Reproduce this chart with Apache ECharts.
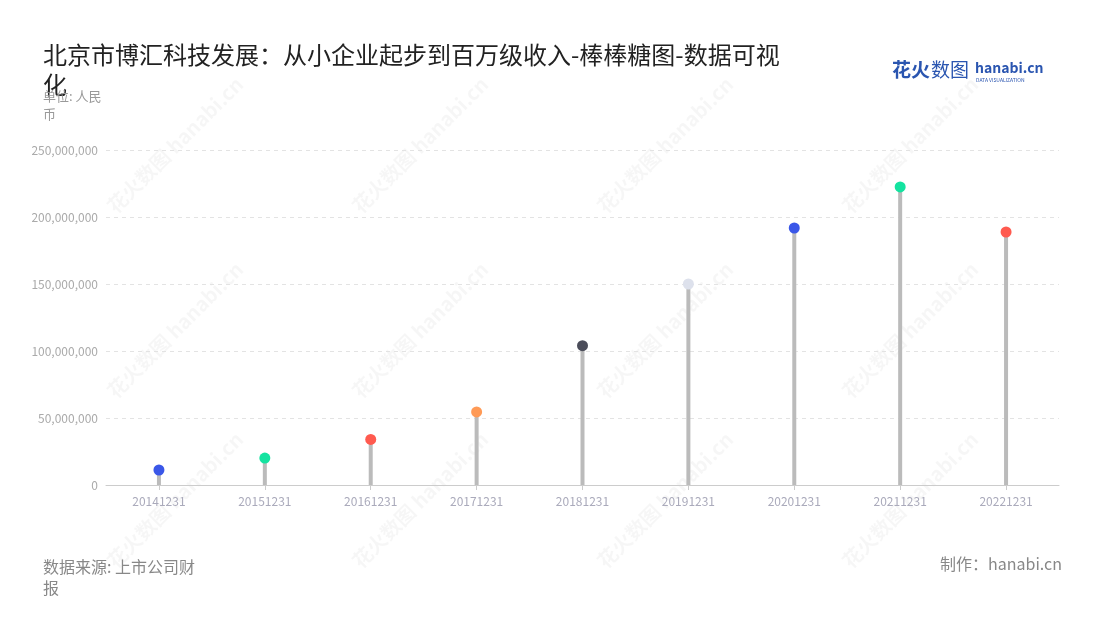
<!DOCTYPE html>
<html><head><meta charset="utf-8">
<script src="https://cdn.jsdelivr.net/npm/echarts@6/dist/echarts.min.js"></script>
<style>html,body{margin:0;padding:0;background:#fff}#c{width:1100px;height:620px}</style>
</head><body><div id="c"></div>
<script>
const categories = ['20141231','20151231','20161231','20171231','20181231','20191231','20201231','20211231','20221231'];
const revenue = [11200000, 20100000, 34000000, 54500000, 104000000, 150000000, 191800000, 222400000, 188800000];
const dotColors = ['#3a57e8','#14e3a0','#ff5a4f','#ff9a56','#4b4d5a','#dde1ec'];
const yTicks = [0, 50000000, 100000000, 150000000, 200000000, 250000000];

const font = '"Noto Sans CJK SC","Noto Sans",sans-serif';
const chart = echarts.init(document.getElementById('c'));

const wm = [];
const wmPos = [[175,145],[420,145],[665,145],[910,145],[175,330],[420,330],[665,330],[910,330],[175,500],[420,500],[665,500],[910,500]];
wmPos.forEach(p => {
  wm.push({type:'text', x:p[0], y:p[1], rotation:Math.PI/4, silent:true, z:0,
    style:{text:'花火数图 hanabi.cn', fill:'rgba(0,0,0,0.035)', font:'bold 20px ' + font, align:'center', verticalAlign:'middle'}});
});

chart.setOption({
  animation:false,
  textStyle:{fontFamily:font},
  title:[{
    text:'北京市博汇科技发展：从小企业起步到百万级收入-棒棒糖图-数据可视化',
    left:43, top:40, padding:0,
    textStyle:{fontSize:24, fontWeight:'normal', color:'#222', width:745, overflow:'break', lineHeight:30, fontFamily:font}
  },{
    text:'单位: 人民币', left:43, top:87, padding:0,
    textStyle:{fontSize:13, fontWeight:'normal', color:'#999', width:70, overflow:'break', lineHeight:18, fontFamily:font}
  },{
    text:'数据来源: 上市公司财报', left:43, top:556, padding:0,
    textStyle:{fontSize:16, fontWeight:'normal', color:'#888', width:165, overflow:'break', lineHeight:21, fontFamily:font}
  },{
    text:'制作：hanabi.cn', right:38, top:556, padding:0,
    textStyle:{fontSize:16, fontWeight:'normal', color:'#888', fontFamily:font}
  }],
  graphic: wm.concat([
    {type:'text', left:892, top:60, style:{text:'花火', fill:'#2a55b0', font:'bold 19px ' + font}},
    {type:'text', left:931, top:60, style:{text:'数图', fill:'#2a55b0', font:'19px ' + font}},
    {type:'text', left:975, top:61, style:{text:'hanabi.cn', fill:'#2a55b0', font:'bold 14px ' + font}},
    {type:'text', left:976, top:78, style:{text:'DATA VISUALIZATION', fill:'#2a55b0', font:'5px ' + font}}
  ]),
  grid:{left:106, right:41, top:150, bottom:135},
  xAxis:{
    type:'category', data:categories,
    axisLine:{lineStyle:{color:'#ccc'}},
    axisTick:{show:true, alignWithLabel:true, lineStyle:{color:'#ccc'}},
    axisLabel:{color:'#aab', fontSize:12, margin:10}
  },
  yAxis:{
    type:'value', min:yTicks[0], max:yTicks[yTicks.length-1], interval:50000000,
    axisLine:{show:false}, axisTick:{show:false},
    axisLabel:{color:'#aaa', fontSize:12, formatter:v => v.toLocaleString('en-US')},
    splitLine:{lineStyle:{color:'#e3e3e3', type:[4,4]}}
  },
  series:[{
    type:'bar', data:revenue, barWidth:4, barGap:'-100%',
    itemStyle:{color:'#bbbbbb'}, z:2
  },{
    type:'scatter', data:revenue, symbolSize:11, z:3,
    itemStyle:{color:p => dotColors[p.dataIndex % dotColors.length], opacity:1}
  }]
});
</script></body></html>
